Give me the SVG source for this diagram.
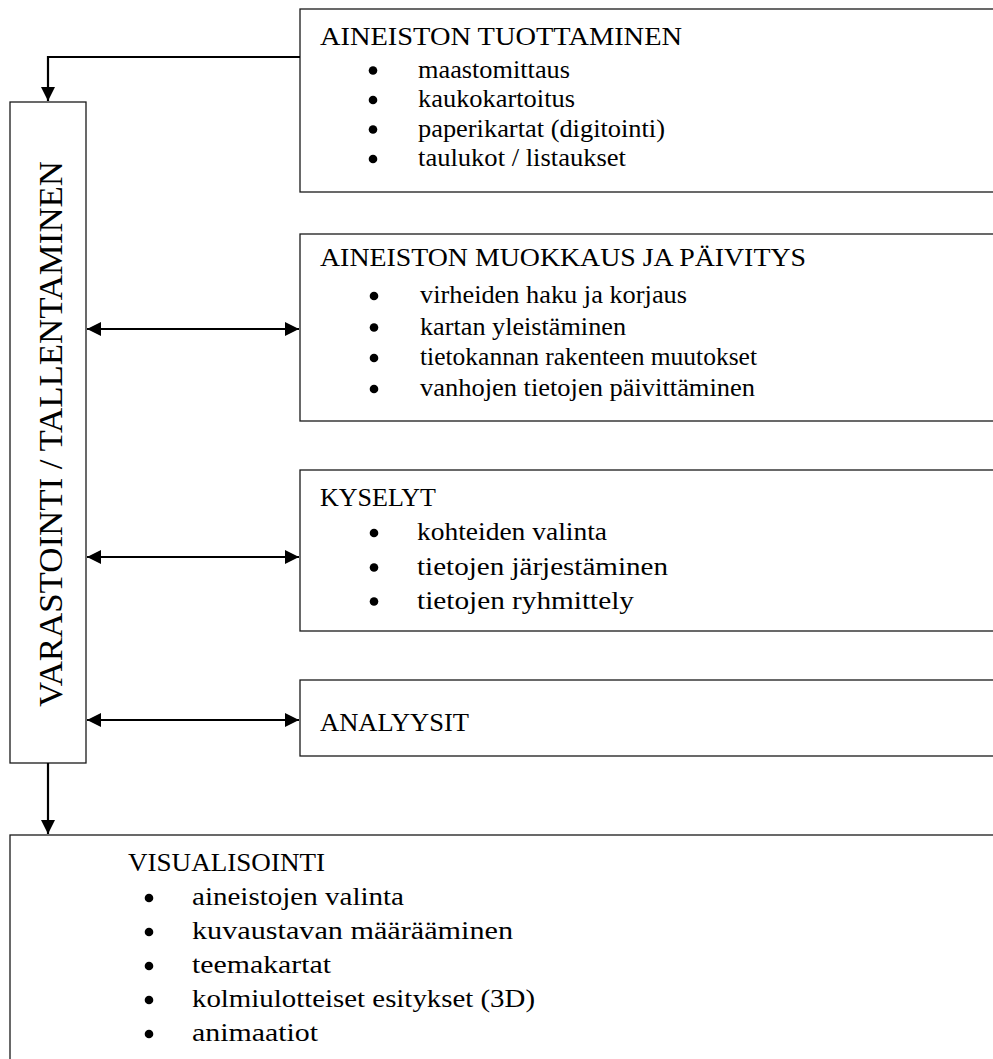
<svg xmlns="http://www.w3.org/2000/svg" width="993" height="1059" viewBox="0 0 993 1059">
  <style>
    .box { fill: #ffffff; stroke: #1a1a1a; stroke-width: 1.3; }
    .txt { font-family: "Liberation Serif", "Times New Roman", serif; font-size: 26px; fill: #000000; }
    .vtxt { font-family: "Liberation Serif", "Times New Roman", serif; font-size: 33px; fill: #000000; }
    .bul { fill: #000000; }
    .conn { fill: none; stroke: #000000; stroke-width: 2.2; }
  </style>
  <defs>
    <marker id="arrow" markerUnits="userSpaceOnUse" markerWidth="15" markerHeight="14" refX="14" refY="7" orient="auto-start-reverse">
      <path d="M0,0 L14,7 L0,14 Z" fill="#000000"/>
    </marker>
    <circle id="dot" r="4.3" class="bul"/>
  </defs>

  <rect width="993" height="1059" fill="#ffffff"/>

  <!-- storage column -->
  <g id="varastointi">
    <rect class="box" x="10" y="102" width="76" height="661"/>
    <text class="vtxt" transform="translate(62,434) rotate(-90)" text-anchor="middle" textLength="546" lengthAdjust="spacingAndGlyphs">VARASTOINTI / TALLENTAMINEN</text>
  </g>

  <!-- data production -->
  <g id="tuottaminen">
    <rect class="box" x="300" y="9" width="720" height="183"/>
    <text class="txt" x="320" y="45" textLength="362" lengthAdjust="spacingAndGlyphs">AINEISTON TUOTTAMINEN</text>
    <use href="#dot" x="373" y="70.5"/>
    <text class="txt" x="418" y="77.5" textLength="152" lengthAdjust="spacingAndGlyphs">maastomittaus</text>
    <use href="#dot" x="373" y="100"/>
    <text class="txt" x="418" y="107" textLength="157" lengthAdjust="spacingAndGlyphs">kaukokartoitus</text>
    <use href="#dot" x="373" y="129.5"/>
    <text class="txt" x="418" y="136.5" textLength="247" lengthAdjust="spacingAndGlyphs">paperikartat (digitointi)</text>
    <use href="#dot" x="373" y="159"/>
    <text class="txt" x="418" y="166" textLength="208" lengthAdjust="spacingAndGlyphs">taulukot / listaukset</text>
  </g>

  <!-- editing and updating -->
  <g id="muokkaus">
    <rect class="box" x="300" y="234" width="720" height="187"/>
    <text class="txt" x="320" y="266" textLength="486" lengthAdjust="spacingAndGlyphs">AINEISTON MUOKKAUS JA PÄIVITYS</text>
    <use href="#dot" x="374" y="296"/>
    <text class="txt" x="420" y="303" textLength="267" lengthAdjust="spacingAndGlyphs">virheiden haku ja korjaus</text>
    <use href="#dot" x="374" y="327.5"/>
    <text class="txt" x="420" y="334.5" textLength="206" lengthAdjust="spacingAndGlyphs">kartan yleistäminen</text>
    <use href="#dot" x="374" y="358"/>
    <text class="txt" x="420" y="365" textLength="337" lengthAdjust="spacingAndGlyphs">tietokannan rakenteen muutokset</text>
    <use href="#dot" x="374" y="389"/>
    <text class="txt" x="420" y="396" textLength="335" lengthAdjust="spacingAndGlyphs">vanhojen tietojen päivittäminen</text>
  </g>

  <!-- queries -->
  <g id="kyselyt">
    <rect class="box" x="300" y="470" width="720" height="161"/>
    <text class="txt" x="320" y="506" textLength="116" lengthAdjust="spacingAndGlyphs">KYSELYT</text>
    <use href="#dot" x="374" y="533"/>
    <text class="txt" x="417" y="540" textLength="190" lengthAdjust="spacingAndGlyphs">kohteiden valinta</text>
    <use href="#dot" x="374" y="567.5"/>
    <text class="txt" x="417" y="574.5" textLength="251" lengthAdjust="spacingAndGlyphs">tietojen järjestäminen</text>
    <use href="#dot" x="374" y="601.5"/>
    <text class="txt" x="417" y="608.5" textLength="217" lengthAdjust="spacingAndGlyphs">tietojen ryhmittely</text>
  </g>

  <!-- analyses -->
  <g id="analyysit">
    <rect class="box" x="300" y="680" width="720" height="76"/>
    <text class="txt" x="320" y="731" textLength="149" lengthAdjust="spacingAndGlyphs">ANALYYSIT</text>
  </g>

  <!-- visualisation -->
  <g id="visualisointi">
    <rect class="box" x="10" y="835" width="1010" height="260"/>
    <text class="txt" x="128" y="871" textLength="197" lengthAdjust="spacingAndGlyphs">VISUALISOINTI</text>
    <use href="#dot" x="149" y="898"/>
    <text class="txt" x="192" y="905" textLength="212" lengthAdjust="spacingAndGlyphs">aineistojen valinta</text>
    <use href="#dot" x="149" y="932"/>
    <text class="txt" x="192" y="939" textLength="321" lengthAdjust="spacingAndGlyphs">kuvaustavan määrääminen</text>
    <use href="#dot" x="149" y="966"/>
    <text class="txt" x="192" y="973" textLength="139" lengthAdjust="spacingAndGlyphs">teemakartat</text>
    <use href="#dot" x="149" y="1000"/>
    <text class="txt" x="192" y="1007" textLength="343" lengthAdjust="spacingAndGlyphs">kolmiulotteiset esitykset (3D)</text>
    <use href="#dot" x="149" y="1034"/>
    <text class="txt" x="192" y="1041" textLength="126" lengthAdjust="spacingAndGlyphs">animaatiot</text>
  </g>

  <!-- connectors -->
  <g id="connectors">
    <path class="conn" d="M300,57 H48 V101" marker-end="url(#arrow)"/>
    <path class="conn" d="M87,329 H299" marker-start="url(#arrow)" marker-end="url(#arrow)"/>
    <path class="conn" d="M87,557 H299" marker-start="url(#arrow)" marker-end="url(#arrow)"/>
    <path class="conn" d="M87,720 H299" marker-start="url(#arrow)" marker-end="url(#arrow)"/>
    <path class="conn" d="M48,763 V834" marker-end="url(#arrow)"/>
  </g>
</svg>
